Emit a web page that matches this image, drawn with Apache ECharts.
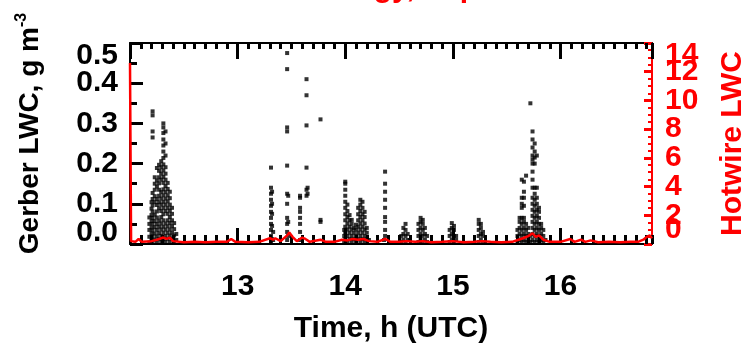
<!DOCTYPE html>
<html><head><meta charset="utf-8">
<script src="https://cdn.jsdelivr.net/npm/echarts@6/dist/echarts.min.js"></script>
<style>html,body{margin:0;padding:0;background:#fff}#c{width:743px;height:347px}</style>
</head><body><div id="c"></div>
<script>
// Gerber LWC (g m^-3): sample times (h UTC) and the values observed at each time
const gerberTimes = [
  12.18,12.20,12.21,12.23,12.25,12.27,12.29,12.31,12.33,12.35,12.37,12.39,12.41,12.43,
  13.31,13.32,13.33,13.46,13.47,13.58,13.64,13.65,13.77,
  13.99,14.00,14.02,14.04,14.06,14.08,14.10,14.12,14.14,14.16,14.18,14.20,14.22,
  14.36,14.37,
  14.52,14.54,14.56,14.58,14.60,14.68,14.70,14.72,14.74,14.76,
  14.97,14.99,15.01,15.03,15.24,15.26,15.28,
  15.60,15.62,15.64,15.66,15.68,15.70,15.72,15.74,15.76,15.78,15.80,15.82,15.84,15.86
];
const gerberValues = [
  [0.004,0.018,0.035,0.05,0.066],
  [0.01,0.026,0.041,0.057,0.072,0.088,0.104],
  [0.003,0.019,0.034,0.05,0.065,0.081,0.096,0.112,0.127,0.265,0.28,0.32,0.33],
  [0.011,0.026,0.042,0.057,0.073,0.104,0.119,0.135,0.15,0.166],
  [0.004,0.019,0.035,0.05,0.066,0.081,0.097,0.112,0.143,0.158,0.189],
  [0.012,0.027,0.043,0.058,0.089,0.104,0.12,0.135,0.151,0.166,0.182,0.197],
  [0.005,0.02,0.036,0.051,0.067,0.082,0.098,0.113,0.129,0.16,0.175,0.191,0.206],
  [0.012,0.028,0.043,0.059,0.074,0.09,0.105,0.121,0.136,0.152,0.167,0.183,0.198,0.214,0.23,0.245,0.26,0.276,0.29,0.30],
  [0.005,0.02,0.036,0.051,0.082,0.098,0.113,0.129,0.144,0.16,0.175,0.191,0.22,0.25,0.28],
  [0.013,0.028,0.044,0.059,0.075,0.09,0.106,0.121,0.137,0.152],
  [0.005,0.021,0.036,0.052,0.067,0.083,0.098,0.114,0.13],
  [0.013,0.028,0.044,0.059,0.075,0.09],
  [0.006,0.021,0.037,0.052],
  [0.01,0.025],
  [0.005,0.02,0.035,0.05,0.065,0.08,0.095,0.11,0.125,0.14,0.19],
  [0.012,0.045,0.075,0.1,0.13],
  [0.01,0.03],
  [0.01,0.03,0.05,0.065,0.10,0.125,0.195,0.28,0.29,0.435,0.475],
  [0.02,0.055,0.12],
  [0.01,0.03,0.05,0.065,0.08,0.09,0.115,0.12],
  [0.12,0.135,0.19,0.295,0.37,0.41],
  [0.125,0.14],
  [0.055,0.06,0.31],
  [0.005,0.02,0.035],
  [0.012,0.028,0.043,0.059,0.074,0.09,0.105,0.12,0.135,0.15,0.155],
  [0.005,0.02,0.036,0.051,0.067,0.082,0.098],
  [0.012,0.028,0.043,0.059,0.072],
  [0.005,0.02,0.036,0.05,0.06],
  [0.012,0.028,0.04],
  [0.005,0.02,0.036,0.048],
  [0.012,0.028,0.043,0.059,0.074,0.09],
  [0.005,0.02,0.036,0.051,0.067,0.082,0.098,0.11],
  [0.012,0.028,0.043,0.059,0.074,0.09,0.105],
  [0.005,0.02,0.036,0.051,0.067,0.08],
  [0.012,0.028,0.04],
  [0.01],
  [0.01],
  [0.02,0.035,0.055,0.067,0.09,0.11,0.13,0.15,0.18],
  [0.005,0.02],
  [0.01,0.025,0.04],
  [0.005,0.02,0.035,0.05],
  [0.01,0.025],
  [0.01],
  [0.005,0.02,0.035,0.05],
  [0.01,0.025,0.04,0.055,0.065],
  [0.005,0.02,0.035,0.05,0.06],
  [0.01,0.025,0.04],
  [0.005,0.02],
  [0.005,0.02,0.035],
  [0.01,0.025,0.04,0.052],
  [0.005,0.02,0.035,0.045],
  [0.01,0.02],
  [0.005,0.02,0.035,0.05,0.06],
  [0.01,0.025,0.04,0.05],
  [0.005,0.02,0.03],
  [0.005,0.02,0.035],
  [0.01,0.025,0.04,0.055,0.065],
  [0.005,0.02,0.035,0.05,0.065,0.09,0.1,0.115,0.16],
  [0.01,0.025,0.04,0.055,0.065,0.095,0.115,0.13,0.155],
  [0.005,0.02,0.035,0.05,0.17],
  [0.01,0.025,0.04],
  [0.005,0.02,0.35],
  [0.01,0.025,0.04,0.055,0.07,0.085,0.1,0.115,0.14,0.16,0.18,0.2,0.21,0.22,0.24,0.26,0.28],
  [0.005,0.02,0.035,0.05,0.065,0.08,0.095,0.11,0.125,0.14,0.2,0.215,0.23,0.25],
  [0.01,0.025,0.04,0.055,0.07,0.085,0.1,0.115,0.14,0.22],
  [0.005,0.02,0.035,0.05,0.065,0.08,0.09],
  [0.01,0.025,0.04,0.05],
  [0.005,0.02,0.035],
  [0.01]
];
// Hotwire LWC (right axis)
const hotTimes = [12.00,12.01,12.05,12.08,12.11,12.20,12.25,12.31,12.34,12.37,12.40,12.50,12.60,12.70,12.80,12.90,12.94,12.98,13.10,13.20,13.30,13.33,13.35,13.40,13.46,13.48,13.51,13.55,13.60,13.63,13.67,13.77,13.82,13.90,13.97,14.02,14.07,14.12,14.17,14.22,14.30,14.37,14.42,14.50,14.57,14.65,14.72,14.80,14.90,15.00,15.10,15.20,15.27,15.35,15.45,15.55,15.61,15.65,15.70,15.74,15.77,15.80,15.84,15.90,16.00,16.09,16.13,16.19,16.23,16.28,16.35,16.45,16.55,16.65,16.72,16.77,16.80,16.83,16.85];
const hotValues = [12.6,0.2,0.15,0.35,0.15,0.2,0.3,0.45,0.35,0.45,0.2,0.12,0.15,0.12,0.15,0.15,0.35,0.15,0.12,0.15,0.4,0.3,0.4,0.2,0.6,0.8,0.5,0.2,0.45,0.35,0.15,0.3,0.15,0.15,0.3,0.25,0.35,0.3,0.35,0.2,0.15,0.35,0.15,0.15,0.2,0.15,0.2,0.12,0.15,0.2,0.12,0.15,0.2,0.15,0.12,0.15,0.3,0.4,0.55,0.75,0.5,0.6,0.3,0.15,0.15,0.35,0.15,0.3,0.15,0.25,0.12,0.15,0.12,0.15,0.15,0.3,0.5,0.6,0.4];
const xTickLabels = ['13','14','15','16'];
const leftTickLabels = ['0.0','0.1','0.2','0.3','0.4','0.5'];
const rightTickLabels = ['0','2','4','6','8','10','12','14'];

const gerberData = [];
gerberTimes.forEach((t,i)=>gerberValues[i].forEach(v=>gerberData.push([t,v])));
const hotData = hotTimes.map((t,i)=>[t,hotValues[i]]);

const FF = '"Liberation Sans", Arial, sans-serif';
const RED = '#ff0000';
const TW = 3;
const chart = echarts.init(document.getElementById('c'), null, {renderer:'canvas'});
const base = c => ({fontFamily:FF,fontWeight:'bold',fontSize:30,color:c});
const X0 = {type:'value',min:12,max:16.85,splitLine:{show:false}};
function xTicks(pos, interval, len, withLine){
  return Object.assign({}, X0, {position:pos, interval:interval,
    axisLine:{show:withLine,onZero:false,lineStyle:{color:'#000',width:2}},
    axisLabel:{show:false},
    axisTick:{show:true,inside:true,length:len,lineStyle:{color:'#000',width:TW}}});
}
const xMain = Object.assign({}, X0, {position:'bottom', interval:1,
  axisLine:{show:true,onZero:false,lineStyle:{color:'#000',width:2}},
  axisTick:{show:true,inside:true,length:16,lineStyle:{color:'#000',width:TW}},
  axisLabel:Object.assign(base('#000'),{show:true,margin:28,showMinLabel:false,showMaxLabel:false,hideOverlap:false,
    formatter:v=>{const r=Math.round(v);const k=xTickLabels.indexOf(String(r));return (Math.abs(v-r)<1e-6&&k>=0)?xTickLabels[k]:'';}}),
  name:'Time, h (UTC)',nameLocation:'middle',nameGap:70,nameTextStyle:base('#000')});

const option = {
  animation:false,
  backgroundColor:'#fff',
  title:{text:'LWC strategy, Sep', left:217, top:-26, padding:0, textStyle:base(RED)},
  grid:{left:130,right:91,top:43,bottom:103,containLabel:false,outerBoundsMode:'none'},
  xAxis:[
    xMain,
    xTicks('bottom',0.1,9,false),
    xTicks('top',1,16,true),
    xTicks('top',0.1,6,false)
  ],
  yAxis:[
    {type:'value',position:'left',min:0,max:0.5,interval:0.1,
      axisLine:{show:true,onZero:false,lineStyle:{color:'#000',width:2}},
      axisTick:{show:true,inside:true,length:13,lineStyle:{color:'#000',width:TW}},
      minorTick:{show:true,splitNumber:2,length:7,lineStyle:{color:'#000',width:TW}},
      splitLine:{show:false},
      axisLabel:Object.assign(base('#000'),{show:true,margin:12,showMinLabel:false,showMaxLabel:false,hideOverlap:false,
        formatter:v=>leftTickLabels[Math.round(v*10)]}),
      name:'Gerber LWC, g m{s|-3}',nameLocation:'middle',nameGap:84,nameRotate:90,
      nameTextStyle:{fontFamily:FF,fontWeight:'bold',fontSize:28,color:'#000',padding:[0,0,0,20],
        rich:{s:{fontFamily:FF,fontWeight:'bold',fontSize:16,color:'#000',verticalAlign:'top',padding:[0,0,16,0]}}}},
    {type:'value',position:'right',min:0,max:14,interval:2,
      axisLine:{show:true,onZero:false,lineStyle:{color:RED,width:2}},
      axisTick:{show:true,inside:true,length:8,lineStyle:{color:RED,width:TW}},
      minorTick:{show:true,splitNumber:4,length:4,lineStyle:{color:RED,width:2}},
      splitLine:{show:false},
      axisLabel:Object.assign(base(RED),{show:true,margin:13,showMinLabel:false,showMaxLabel:false,hideOverlap:false,
        formatter:v=>rightTickLabels[Math.round(v/2)]}),
      name:'Hotwire LWC',nameLocation:'middle',nameGap:66,nameRotate:90,
      nameTextStyle:{fontFamily:FF,fontWeight:'bold',fontSize:30,color:RED}},
    // end labels of both value axes, pushed inwards as in the original figure
    {type:'value',position:'left',min:0,max:0.5,interval:0.1,
      axisLine:{show:false},axisTick:{show:false},splitLine:{show:false},
      axisLabel:Object.assign(base('#000'),{show:true,margin:12,showMinLabel:true,showMaxLabel:true,hideOverlap:false,
        rich:{t:Object.assign(base('#000'),{padding:[26,0,0,0]}),b:Object.assign(base('#000'),{padding:[0,0,22,0]})},
        formatter:v=>{const s=leftTickLabels[Math.round(v*10)];return v>0.45?'{t|'+s+'}':(v<0.05?'{b|'+s+'}':'');}})},
    {type:'value',position:'right',min:0,max:14,interval:2,
      axisLine:{show:false},axisTick:{show:false},splitLine:{show:false},
      axisLabel:Object.assign(base(RED),{show:true,margin:13,showMinLabel:true,showMaxLabel:true,hideOverlap:false,
        rich:{t:Object.assign(base(RED),{padding:[24,0,0,0]}),b:Object.assign(base(RED),{padding:[0,0,28,0]})},
        formatter:v=>{const s=rightTickLabels[Math.round(v/2)];return v>13?'{t|'+s+'}':(v<1?'{b|'+s+'}':'');}})}
  ],
  series:[
    {type:'scatter',xAxisIndex:0,yAxisIndex:0,data:gerberData,symbol:'rect',symbolSize:4,
      itemStyle:{color:'#000'},z:2},
    {type:'line',xAxisIndex:0,yAxisIndex:1,data:hotData,showSymbol:false,symbol:'none',
      lineStyle:{color:RED,width:2.5},z:3}
  ]
};
chart.setOption(option);
</script></body></html>
